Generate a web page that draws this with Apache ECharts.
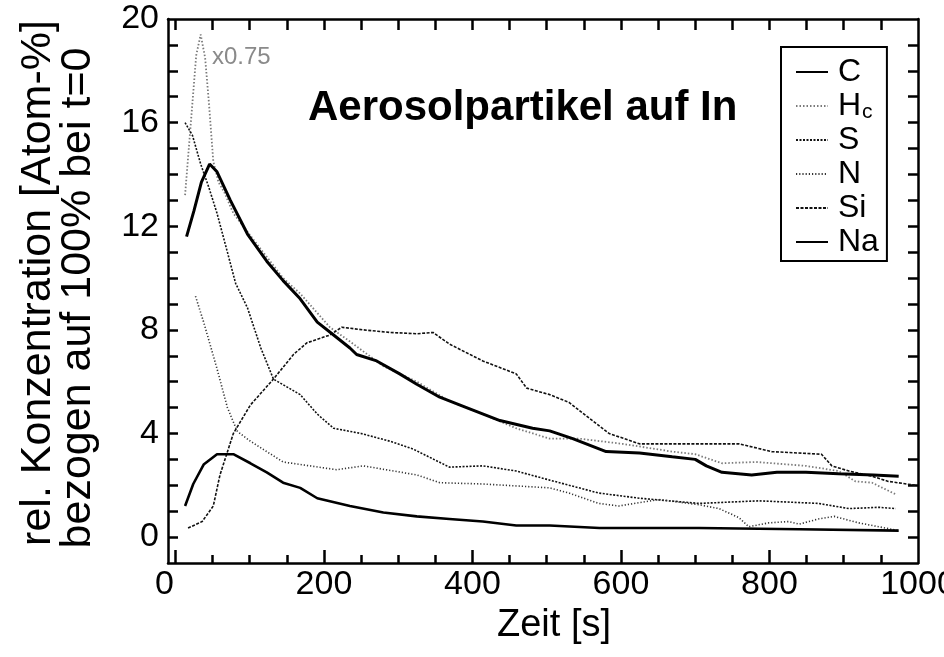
<!DOCTYPE html>
<html><head><meta charset="utf-8">
<script src="https://cdn.jsdelivr.net/npm/echarts@6/dist/echarts.min.js"></script>
<style>html,body{margin:0;padding:0;background:#fff}#c{width:944px;height:657px}</style>
</head><body><div id="c"></div>
<script>
// ---- tick labels ----
const xTickLabels = [0, 200, 400, 600, 800, 1000];
const xMinorTicks = [0, 50, 100, 150, 200, 250, 300, 350, 400, 450, 500, 550, 600, 650, 700, 750, 800, 850, 900, 950];
const xMajorTicks = [0, 200, 400, 600, 800];
const yTickLabels = [0, 4, 8, 12, 16, 20];
const yMinorTicks = [0, 1, 2, 3, 4, 5, 6, 7, 8, 9, 10, 11, 12, 13, 14, 15, 16, 17, 18, 19];

// ---- series: time [s] and values ----
const tC = [15, 25, 35, 46, 56, 74, 97, 123, 145, 168, 191, 213, 235, 244, 271, 302, 325, 356, 392, 437, 481, 504, 535, 580, 625, 669, 700, 715, 736, 776, 810, 849, 893, 940, 974];
const C  = [11.6, 12.6, 13.7, 14.4, 14.1, 13.0, 11.7, 10.65, 9.9, 9.2, 8.3, 7.8, 7.3, 7.05, 6.8, 6.3, 5.9, 5.4, 5.0, 4.5, 4.2, 4.1, 3.8, 3.3, 3.25, 3.1, 3.0, 2.75, 2.5, 2.4, 2.5, 2.5, 2.45, 2.4, 2.35];

const tHc = [13, 18, 23, 28, 34, 40, 45, 51, 58, 66, 78, 110, 145, 168, 208, 235, 280, 325, 369, 414, 459, 504, 544, 602, 669, 700, 736, 782, 849, 893, 916, 938, 970];
const Hc  = [13.2, 15.0, 16.8, 18.6, 19.4, 18.5, 16.8, 14.5, 13.7, 13.3, 12.5, 11.3, 10.0, 9.4, 8.1, 7.55, 6.6, 6.0, 5.25, 4.75, 4.2, 3.8, 3.8, 3.6, 3.3, 3.2, 2.85, 2.9, 2.75, 2.55, 2.15, 2.1, 1.65];

const tS = [13, 23, 34, 45, 56, 70, 81, 97, 115, 132, 150, 168, 191, 213, 250, 289, 320, 369, 414, 459, 504, 570, 625, 705, 786, 866, 907, 947, 970];
const S  = [16.0, 15.5, 14.4, 13.5, 12.5, 11.0, 9.8, 8.85, 7.3, 6.1, 5.8, 5.5, 4.75, 4.2, 4.0, 3.7, 3.4, 2.7, 2.75, 2.55, 2.2, 1.7, 1.5, 1.3, 1.4, 1.3, 1.1, 1.15, 1.1];

const tN = [27, 38, 56, 70, 83, 87, 101, 145, 217, 253, 325, 356, 414, 504, 530, 570, 597, 651, 705, 732, 759, 772, 799, 826, 840, 866, 887, 920, 947, 974];
const N  = [9.3, 8.3, 6.5, 5.0, 4.1, 4.0, 3.7, 2.9, 2.6, 2.75, 2.4, 2.1, 2.05, 1.9, 1.7, 1.3, 1.2, 1.45, 1.25, 1.1, 0.75, 0.4, 0.55, 0.6, 0.5, 0.7, 0.8, 0.55, 0.4, 0.25];

const tSi = [17, 36, 51, 60, 78, 101, 132, 159, 177, 208, 224, 253, 289, 325, 347, 369, 414, 459, 473, 504, 530, 584, 625, 669, 759, 803, 870, 884, 907, 938, 960, 997];
const Si  = [0.35, 0.6, 1.2, 2.4, 4.0, 5.1, 6.1, 7.05, 7.5, 7.8, 8.1, 8.0, 7.9, 7.85, 7.9, 7.45, 6.8, 6.3, 5.75, 5.5, 5.2, 4.0, 3.6, 3.6, 3.6, 3.3, 3.2, 2.75, 2.55, 2.35, 2.15, 2.0];

const tNa = [13, 24, 38, 56, 78, 101, 123, 145, 168, 191, 235, 280, 325, 369, 414, 459, 504, 571, 705, 840, 974];
const Na  = [1.2, 2.05, 2.8, 3.2, 3.2, 2.85, 2.5, 2.1, 1.9, 1.5, 1.2, 0.95, 0.8, 0.7, 0.6, 0.45, 0.45, 0.35, 0.35, 0.3, 0.25];

const pairs = (t, v) => t.map((x, i) => [x, v[i]]);
const FONT = '"Liberation Sans", Arial, Helvetica, sans-serif';
const axisLineStyle = { color: '#000', width: 2.5 };

const chart = echarts.init(document.getElementById('c'), null, { renderer: 'canvas' });

const option = {
  animation: false,
  backgroundColor: '#fff',
  grid: { left: 168, right: 26, top: 19, bottom: 94, containLabel: false, outerBoundsMode: 'none' },
  xAxis: [
    {
      type: 'value', min: -10, max: 1000, position: 'bottom',
      axisLine: { onZero: false, lineStyle: axisLineStyle },
      axisTick: { inside: true, length: 8, customValues: xMinorTicks, lineStyle: axisLineStyle },
      axisLabel: {
        customValues: xTickLabels, fontSize: 34, color: '#000', fontFamily: FONT, margin: 5,
        formatter: v => v === 0 ? '{z|0}' : String(v),
        rich: { z: { fontSize: 34, color: '#000', fontFamily: FONT, padding: [0, 22, 0, 0] } }
      },
      splitLine: { show: false },
      name: 'Zeit [s]', nameLocation: 'middle', nameGap: 38,
      nameTextStyle: { fontSize: 38, color: '#000', fontFamily: FONT, padding: [0, 0, 0, 22] }
    },
    {
      type: 'value', min: -10, max: 1000, position: 'top',
      axisLine: { onZero: false, lineStyle: axisLineStyle },
      axisTick: { inside: true, length: 11, customValues: xMinorTicks, lineStyle: axisLineStyle },
      axisLabel: { show: false }, splitLine: { show: false }
    },
    {
      type: 'value', min: -10, max: 1000, position: 'bottom',
      axisLine: { show: false, onZero: false },
      axisTick: { inside: true, length: 13, customValues: xMajorTicks, lineStyle: axisLineStyle },
      axisLabel: { show: false }, splitLine: { show: false }
    }
  ],
  yAxis: [
    {
      type: 'value', min: -1, max: 20, position: 'left',
      axisLine: { onZero: false, lineStyle: axisLineStyle },
      axisTick: { inside: true, length: 10, customValues: yMinorTicks, lineStyle: axisLineStyle },
      axisLabel: { customValues: yTickLabels, fontSize: 34, color: '#000', fontFamily: FONT, margin: 9 },
      splitLine: { show: false }
    },
    {
      type: 'value', min: -1, max: 20, position: 'right',
      axisLine: { onZero: false, lineStyle: axisLineStyle },
      axisTick: { inside: true, length: 10, customValues: yMinorTicks, lineStyle: axisLineStyle },
      axisLabel: { show: false }, splitLine: { show: false }
    }
  ],
  legend: {
    orient: 'vertical', left: 781, top: 47,
    data: ['C', 'Hc', 'S', 'N', 'Si', 'Na'],
    selectedMode: false,
    itemWidth: 32, itemHeight: 14, itemGap: 0,
    padding: [8, 8, 2, 14],
    borderColor: '#000', borderWidth: 2,
    itemStyle: { opacity: 0 },
    formatter: name => name === 'Hc' ? '{b|H}{s|c}' : '{b|' + name + '}',
    textStyle: {
      fontSize: 32, lineHeight: 34, color: '#000', fontFamily: FONT, padding: [0, 0, 0, 5],
      rich: {
        b: { fontSize: 32, lineHeight: 34, color: '#000', fontFamily: FONT },
        s: { fontSize: 21, lineHeight: 34, color: '#000', fontFamily: FONT, verticalAlign: 'bottom', padding: [0, 0, 0, 1] }
      }
    }
  },
  graphic: [
    { type: 'text', x: 308, y: 108, style: { text: 'Aerosolpartikel auf In', fontSize: 42, fontWeight: 'bold', fontFamily: FONT, fill: '#000', verticalAlign: 'middle' } },
    { type: 'text', x: 212, y: 57, style: { text: 'x0.75', fontSize: 24, fontFamily: FONT, fill: '#8a8a8a', verticalAlign: 'middle' } },
    { type: 'text', x: 38, y: 283, rotation: Math.PI / 2, style: { text: 'rel. Konzentration [Atom-%]', fontSize: 43, fontFamily: FONT, fill: '#000', align: 'center', verticalAlign: 'middle' } },
    { type: 'text', x: 78, y: 298, rotation: Math.PI / 2, style: { text: 'bezogen auf 100% bei t=0', fontSize: 43, fontFamily: FONT, fill: '#000', align: 'center', verticalAlign: 'middle' } }
  ],
  series: [
    { name: 'C', type: 'line', data: pairs(tC, C), symbol: 'none', z: 6, lineStyle: { color: '#000', width: 3 } },
    { name: 'Hc', type: 'line', data: pairs(tHc, Hc), symbol: 'none', z: 4, lineStyle: { color: '#7a7a7a', width: 1.8, type: [1.5, 2] } },
    { name: 'S', type: 'line', data: pairs(tS, S), symbol: 'none', z: 4, lineStyle: { color: '#111', width: 1.6, type: [2, 1.5] } },
    { name: 'N', type: 'line', data: pairs(tN, N), symbol: 'none', z: 4, lineStyle: { color: '#333', width: 1.6, type: [1.2, 2] } },
    { name: 'Si', type: 'line', data: pairs(tSi, Si), symbol: 'none', z: 4, lineStyle: { color: '#111', width: 1.6, type: [3, 1.5] } },
    { name: 'Na', type: 'line', data: pairs(tNa, Na), symbol: 'none', z: 5, lineStyle: { color: '#000', width: 2.6 } }
  ]
};
chart.setOption(option);
</script>
</body></html>
